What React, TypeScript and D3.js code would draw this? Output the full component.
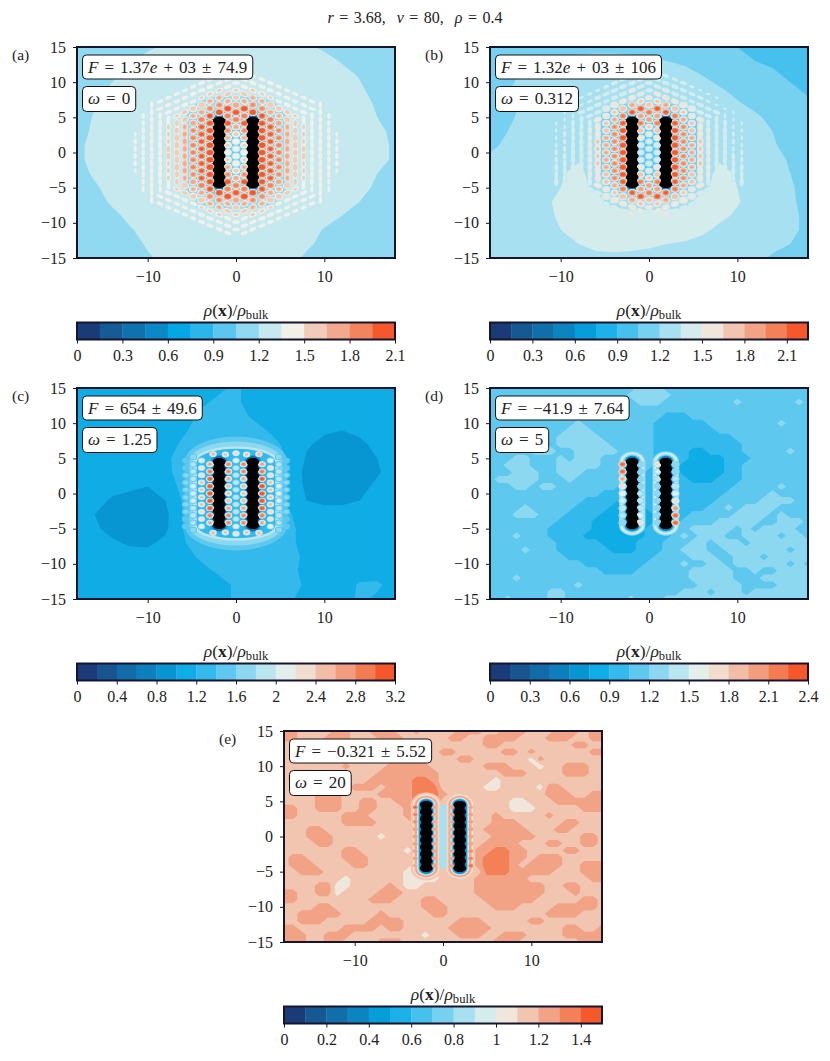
import { useEffect, useRef } from "react"
import * as d3 from "d3"

// ---- shared axes and colours ----
const xExtent = [-18, 18]
const yExtent = [-15, 15]
const xTicks = [-10, 0, 10]
const yTicks = [-15, -10, -5, 0, 5, 10, 15]
const rodX = [-1.9, 1.9]
const rodEnd = 4.5
const beadY = [-4.5, -3.5, -2.5, -1.5, -0.5, 0.5, 1.5, 2.5, 3.5, 4.5]
const latticePitch = 1.04
const barColours = ["#1b3a78", "#155b95", "#0f72ae", "#0b89c6", "#03a7e4", "#2ab6ea", "#5cc7ee", "#90d9f1", "#c5e9ef", "#f1f1e9", "#f1cdb9", "#f3a98d", "#f4845d", "#f6572b"]

// ---- panel (a) ----
const gridA = [
  [1.1, 1.11, 1.12, 1.14, 1.18, 1.22, 1.25, 1.26, 1.26, 1.26, 1.26, 1.26, 1.25, 1.22, 1.18, 1.14, 1.12, 1.11, 1.1],
  [1.11, 1.12, 1.14, 1.19, 1.24, 1.27, 1.28, 1.28, 1.28, 1.28, 1.28, 1.28, 1.28, 1.27, 1.24, 1.19, 1.15, 1.12, 1.11],
  [1.12, 1.14, 1.18, 1.24, 1.27, 1.28, 1.28, 1.28, 1.28, 1.28, 1.28, 1.28, 1.28, 1.28, 1.27, 1.24, 1.19, 1.13, 1.11],
  [1.13, 1.17, 1.22, 1.27, 1.28, 1.28, 1.28, 1.28, 1.28, 1.28, 1.28, 1.28, 1.28, 1.28, 1.28, 1.27, 1.22, 1.15, 1.12],
  [1.14, 1.19, 1.25, 1.27, 1.28, 1.28, 1.26, 1.18, 1.12, 1.12, 1.12, 1.18, 1.26, 1.28, 1.28, 1.27, 1.25, 1.18, 1.13],
  [1.15, 1.21, 1.26, 1.28, 1.28, 1.28, 1.22, 1.0, 0.95, 1.0, 0.95, 1.0, 1.22, 1.28, 1.28, 1.28, 1.26, 1.2, 1.15],
  [1.16, 1.22, 1.27, 1.28, 1.28, 1.28, 1.22, 0.98, 0.92, 1.0, 0.92, 0.98, 1.22, 1.28, 1.28, 1.28, 1.27, 1.23, 1.17],
  [1.17, 1.24, 1.27, 1.28, 1.28, 1.28, 1.22, 0.98, 0.92, 1.02, 0.92, 0.98, 1.22, 1.28, 1.28, 1.28, 1.27, 1.24, 1.18],
  [1.17, 1.24, 1.27, 1.28, 1.28, 1.28, 1.22, 0.98, 0.92, 1.02, 0.92, 0.98, 1.22, 1.28, 1.28, 1.28, 1.27, 1.24, 1.18],
  [1.15, 1.22, 1.27, 1.28, 1.28, 1.28, 1.22, 0.98, 0.92, 1.0, 0.92, 0.98, 1.22, 1.28, 1.28, 1.28, 1.27, 1.2, 1.15],
  [1.12, 1.18, 1.25, 1.28, 1.28, 1.28, 1.22, 1.0, 0.95, 1.0, 0.95, 1.0, 1.22, 1.28, 1.28, 1.28, 1.25, 1.17, 1.13],
  [1.1, 1.15, 1.22, 1.27, 1.28, 1.28, 1.26, 1.18, 1.12, 1.12, 1.12, 1.18, 1.26, 1.28, 1.28, 1.26, 1.2, 1.14, 1.11],
  [1.08, 1.12, 1.17, 1.23, 1.27, 1.28, 1.28, 1.28, 1.28, 1.28, 1.28, 1.28, 1.28, 1.28, 1.26, 1.2, 1.15, 1.11, 1.08],
  [1.08, 1.1, 1.13, 1.19, 1.24, 1.27, 1.28, 1.28, 1.28, 1.28, 1.28, 1.28, 1.28, 1.26, 1.19, 1.15, 1.12, 1.1, 1.08],
  [1.07, 1.09, 1.12, 1.17, 1.21, 1.25, 1.27, 1.28, 1.28, 1.28, 1.28, 1.28, 1.26, 1.22, 1.17, 1.12, 1.09, 1.08, 1.07],
  [1.06, 1.08, 1.1, 1.15, 1.19, 1.22, 1.25, 1.26, 1.26, 1.26, 1.26, 1.25, 1.24, 1.18, 1.13, 1.09, 1.08, 1.07, 1.06],
]
const colXA = [0, 0.94, 1.9, 2.95, 3.9, 4.85, 5.8, 6.7, 7.65, 8.6, 9.55, 10.5, 11.4]
const colStartA = [0.52, 0, 5.72, 0, 0.52, 0, 0.52, 0, 0.52, 0, 0.52, 0, 0.52]
const colPeaksA = [
  [1.45, 1.5, 1.6, 1.75, 1.95, 2.15, 1.8, 1.65, 1.55, 1.45, 1.42],
  [1.5, 1.55, 1.7, 1.85, 2.1, 1.95, 2.15, 1.7, 1.6, 1.5, 1.45, 1.42],
  [2.2, 1.85, 1.7, 1.55, 1.45, 1.42],
  [2.25, 2.25, 2.25, 2.2, 2.15, 2.1, 1.85, 1.7, 1.55, 1.45, 1.42],
  [2.05, 2.05, 2.05, 2.05, 1.95, 1.75, 1.65, 1.55, 1.45, 1.42],
  [1.9, 1.9, 1.9, 1.85, 1.8, 1.7, 1.6, 1.5, 1.42, 1.4],
  [1.72, 1.72, 1.72, 1.7, 1.65, 1.6, 1.5, 1.42, 1.4],
  [1.65, 1.65, 1.65, 1.62, 1.6, 1.55, 1.45, 1.42, 1.4],
  [1.6, 1.55, 1.55, 1.55, 1.5, 1.45, 1.42, 1.4],
  [1.45, 1.45, 1.45, 1.45, 1.45, 1.42, 1.42, 1.4],
  [1.42, 1.42, 1.42, 1.42, 1.42, 1.4, 1.4],
  [1.4, 1.4, 1.4, 1.4, 1.38, 1.38],
  [1.38, 1.38, 1.37],
]
const barTicksA = [0, 0.3, 0.6, 0.9, 1.2, 1.5, 1.8, 2.1]

// ---- panel (b) ----
const gridB = [
  [1.13, 1.13, 1.13, 1.14, 1.15, 1.15, 1.15, 1.15, 1.15, 1.13, 1.13, 1.12, 1.12, 1.1, 1.05, 1.03, 1.0, 0.98, 0.97],
  [1.17, 1.17, 1.18, 1.2, 1.22, 1.24, 1.26, 1.26, 1.24, 1.22, 1.2, 1.17, 1.13, 1.1, 1.07, 1.05, 1.03, 1.0, 1.0],
  [1.18, 1.19, 1.21, 1.23, 1.26, 1.28, 1.3, 1.31, 1.32, 1.32, 1.3, 1.26, 1.2, 1.15, 1.12, 1.1, 1.07, 1.03, 1.01],
  [1.15, 1.19, 1.23, 1.26, 1.27, 1.3, 1.32, 1.33, 1.33, 1.33, 1.33, 1.32, 1.28, 1.21, 1.17, 1.13, 1.1, 1.07, 1.03],
  [1.15, 1.17, 1.22, 1.26, 1.28, 1.31, 1.33, 1.25, 1.2, 1.2, 1.2, 1.25, 1.32, 1.29, 1.21, 1.17, 1.13, 1.1, 1.07],
  [1.15, 1.18, 1.23, 1.27, 1.3, 1.32, 1.28, 1.0, 0.95, 1.0, 0.95, 1.0, 1.28, 1.32, 1.28, 1.22, 1.17, 1.12, 1.1],
  [1.15, 1.2, 1.25, 1.28, 1.31, 1.32, 1.28, 0.98, 0.92, 1.0, 0.92, 0.98, 1.28, 1.33, 1.3, 1.25, 1.2, 1.15, 1.11],
  [1.17, 1.23, 1.26, 1.28, 1.31, 1.33, 1.28, 0.98, 0.92, 1.0, 0.92, 0.98, 1.28, 1.33, 1.3, 1.26, 1.21, 1.17, 1.13],
  [1.23, 1.26, 1.28, 1.3, 1.33, 1.34, 1.28, 0.98, 0.92, 1.0, 0.92, 0.98, 1.28, 1.34, 1.33, 1.28, 1.23, 1.19, 1.15],
  [1.25, 1.26, 1.28, 1.31, 1.34, 1.38, 1.3, 0.98, 0.92, 1.0, 0.92, 0.98, 1.3, 1.38, 1.34, 1.28, 1.25, 1.2, 1.17],
  [1.25, 1.27, 1.29, 1.32, 1.35, 1.38, 1.33, 1.05, 0.95, 1.0, 0.95, 1.05, 1.33, 1.38, 1.35, 1.29, 1.25, 1.21, 1.17],
  [1.26, 1.27, 1.29, 1.33, 1.37, 1.4, 1.4, 1.3, 1.25, 1.25, 1.25, 1.3, 1.4, 1.4, 1.36, 1.3, 1.25, 1.21, 1.18],
  [1.26, 1.27, 1.29, 1.31, 1.37, 1.4, 1.42, 1.42, 1.42, 1.42, 1.42, 1.42, 1.42, 1.38, 1.33, 1.28, 1.25, 1.21, 1.19],
  [1.26, 1.26, 1.28, 1.3, 1.35, 1.38, 1.4, 1.42, 1.42, 1.42, 1.42, 1.4, 1.38, 1.32, 1.28, 1.26, 1.23, 1.21, 1.19],
  [1.26, 1.26, 1.27, 1.28, 1.33, 1.35, 1.37, 1.38, 1.38, 1.37, 1.35, 1.34, 1.3, 1.28, 1.26, 1.25, 1.22, 1.2, 1.18],
  [1.25, 1.26, 1.26, 1.27, 1.29, 1.31, 1.33, 1.33, 1.32, 1.31, 1.3, 1.29, 1.29, 1.27, 1.25, 1.22, 1.19, 1.17, 1.15],
]
const colXB = [0, 0.94, 1.9, 2.95, 3.9, 4.85, 5.8, 6.7, 7.65, 8.6, 9.55, 10.5]
const colStartB = [0.52, 0, 5.72, 0, 0.52, 0, 0.52, 0, 0.52, 0, 0.52, 0]
const colPeaksB = [
  [1.45, 1.45, 1.55, 1.7, 1.95, 2.1, 1.75, 1.6, 1.5, 1.42, 1.4],
  [1.45, 1.5, 1.65, 1.8, 2.05, 1.95, 2.2, 1.7, 1.55, 1.45, 1.4, 1.38],
  [2.2, 1.85, 1.65, 1.55, 1.42, 1.38],
  [2.35, 2.35, 2.35, 2.3, 2.2, 2.1, 1.8, 1.65, 1.5, 1.42, 1.38],
  [2.0, 2.0, 2.0, 2.0, 1.85, 1.7, 1.6, 1.5, 1.42, 1.38],
  [1.85, 1.85, 1.85, 1.8, 1.75, 1.65, 1.55, 1.42, 1.38, 1.36],
  [1.7, 1.7, 1.65, 1.65, 1.6, 1.5, 1.42, 1.38, 1.36],
  [1.55, 1.55, 1.55, 1.55, 1.5, 1.45, 1.38, 1.36, 1.36],
  [1.5, 1.5, 1.45, 1.45, 1.42, 1.4, 1.36, 1.36],
  [1.4, 1.4, 1.4, 1.4, 1.38, 1.36, 1.36],
  [1.37, 1.37, 1.37, 1.36, 1.36, 1.36],
  [1.36, 1.36, 1.36, 1.36, 1.36],
]
const barTicksB = [0, 0.3, 0.6, 0.9, 1.2, 1.5, 1.8, 2.1]

// ---- panel (c) ----
const gridC = [
  [1.1, 1.1, 1.1, 1.1, 1.1, 1.1, 1.12, 1.15, 1.18, 1.22, 1.15, 1.12, 1.1, 1.1, 1.1, 1.1, 1.1, 1.1, 1.1],
  [1.1, 1.1, 1.1, 1.1, 1.1, 1.1, 1.12, 1.18, 1.22, 1.22, 1.15, 1.1, 1.1, 1.1, 1.1, 1.1, 1.1, 1.1, 1.1],
  [1.1, 1.1, 1.1, 1.1, 1.1, 1.1, 1.15, 1.22, 1.25, 1.25, 1.18, 1.12, 1.1, 1.08, 1.08, 1.06, 1.08, 1.1, 1.1],
  [1.1, 1.1, 1.1, 1.1, 1.1, 1.12, 1.18, 1.25, 1.3, 1.3, 1.25, 1.18, 1.12, 1.05, 1.02, 1.0, 1.04, 1.08, 1.1],
  [1.1, 1.1, 1.1, 1.08, 1.1, 1.15, 1.22, 1.32, 1.4, 1.4, 1.35, 1.25, 1.15, 1.02, 0.96, 0.94, 0.96, 1.05, 1.1],
  [1.1, 1.1, 1.1, 1.1, 1.1, 1.16, 1.28, 1.35, 1.35, 1.35, 1.35, 1.3, 1.18, 0.98, 0.92, 0.9, 0.92, 1.0, 1.1],
  [1.1, 1.1, 1.1, 1.08, 1.08, 1.15, 1.28, 1.35, 1.35, 1.35, 1.35, 1.3, 1.15, 0.94, 0.92, 0.92, 0.9, 0.98, 1.08],
  [1.1, 1.08, 1.05, 1.02, 1.0, 1.1, 1.25, 1.35, 1.35, 1.35, 1.35, 1.3, 1.15, 0.96, 0.92, 0.92, 0.94, 1.04, 1.1],
  [1.1, 1.05, 0.98, 0.96, 0.94, 1.0, 1.22, 1.35, 1.35, 1.35, 1.35, 1.3, 1.16, 1.0, 0.96, 0.96, 1.0, 1.08, 1.1],
  [1.08, 1.0, 0.94, 0.92, 0.92, 0.95, 1.2, 1.32, 1.35, 1.35, 1.35, 1.32, 1.22, 1.1, 1.08, 1.08, 1.08, 1.1, 1.1],
  [1.08, 1.02, 0.96, 0.92, 0.92, 0.96, 1.2, 1.35, 1.35, 1.35, 1.35, 1.35, 1.25, 1.12, 1.1, 1.1, 1.1, 1.1, 1.1],
  [1.1, 1.08, 1.02, 0.98, 0.96, 1.05, 1.18, 1.3, 1.35, 1.35, 1.35, 1.32, 1.25, 1.12, 1.1, 1.1, 1.1, 1.1, 1.1],
  [1.1, 1.1, 1.1, 1.06, 1.08, 1.12, 1.15, 1.22, 1.3, 1.32, 1.35, 1.35, 1.28, 1.15, 1.1, 1.1, 1.1, 1.1, 1.1],
  [1.1, 1.1, 1.08, 1.1, 1.1, 1.1, 1.12, 1.16, 1.22, 1.28, 1.32, 1.32, 1.25, 1.15, 1.1, 1.1, 1.12, 1.15, 1.1],
  [1.1, 1.1, 1.1, 1.1, 1.1, 1.1, 1.1, 1.12, 1.15, 1.22, 1.25, 1.28, 1.25, 1.18, 1.15, 1.12, 1.22, 1.22, 1.15],
  [1.1, 1.1, 1.1, 1.1, 1.1, 1.1, 1.1, 1.12, 1.15, 1.22, 1.25, 1.25, 1.22, 1.15, 1.12, 1.15, 1.22, 1.18, 1.12],
]
const colXC = [0, 0.85, 1.2, 2.6, 2.95, 3.9, 4.85, 5.7]
const colStartC = [0.52, 0, 5.55, 5.6, 0, 0.52, 0, 0.52]
const colPeaksC = [
  [2.0, 2.0, 2.0, 2.0, 2.2, 2.4],
  [2.5, 2.6, 2.7, 2.9, 2.9],
  [2.5],
  [2.6],
  [3.3, 3.3, 3.2, 3.0, 2.7],
  [2.5, 2.5, 2.4, 2.3, 2.2],
  [2.1, 2.1, 2.0, 2.0, 1.9, 1.8],
  [1.7, 1.7, 1.7, 1.6, 1.6],
]
const pairDxC = [3.9, 3.4, 2.95, 2.55]
const pairDyC = [3.6, 2.9, 2.2, 1.85]
const pairValueC = [1.5, 1.7, 1.9, 1.3]
const rodDistC = [1.0, 0.85, 0.75]
const rodValueC = [1.1, 0.7, 0.4]
const barTicksC = [0, 0.4, 0.8, 1.2, 1.6, 2, 2.4, 2.8, 3.2]

// ---- panel (d): colour band index at 1 unit spacing, top row is y = 15 ----
const bandRowsD = [
  "7777777777777777788877777777777777777",
  "7777777777777777888887777777777777777",
  "7777777777777777788877777777877777787",
  "7777777777778777777777777777777777777",
  "7777777777777777777766677777777777777",
  "7777777777877777777666666777777778777",
  "7777777778887777777666666677777777777",
  "7777777788888777777666666666777777777",
  "7777778788888877777666666666677777777",
  "7777788877888887777666655666677777877",
  "7778877787888777777666655556667777777",
  "7788877788888777777666555556677777777",
  "7778887788877777776666555556677777777",
  "7888887778777777776666655566677777777",
  "7778878877777776666666666666777778777",
  "7777777777777666666666666667777787777",
  "7777777777766665566666666677777888877",
  "7777877777666655556666666778788887777",
  "7778887776666555555666677777888878777",
  "7777777766665555555666777788888778887",
  "7777777666665555556667788888787888877",
  "7778777666655555556667878887788887887",
  "7777777766666555566677788788878888888",
  "7777877766666655566677888778888888788",
  "7777777776666666666777788877888788888",
  "7777777777766666667777877887888888787",
  "7777777777777666677777788888778778888",
  "7778777777777777777777788888777888888",
  "7777777777877777777777778888877778888",
  "7777777887777777777777888788878888888",
  "7787777887777777877788888888888888888",
]
const bandStepD = 0.15
const gridD = bandRowsD.map((row) =>
  Array.from(row.padEnd(37, "7").slice(0, 37), (c) => (+c + 0.5) * bandStepD),
)
const colXD = [-3, -1, 1, 3]
const colStartD = [4.16, 4.16, 4.16, 4.16]
const colPeaksD = [
  [2.3, 2.3, 2.0, 1.8, 1.65, 1.55, 1.45, 1.4, 1.35],
  [1.3, 1.35, 1.35, 1.35, 1.4, 1.45, 1.5, 1.6, 1.8],
  [1.8, 1.55, 1.45, 1.35, 1.35, 1.3, 1.3, 1.3, 1.3],
  [1.35, 1.35, 1.4, 1.5, 1.6, 1.8, 2.1, 2.3, 2.3],
]
const rodDistD = [1.5, 1.38, 1.25, 1.1, 0.95, 0.85, 0.72]
const rodValueD = [1.25, 1.4, 1.55, 1.3, 1.05, 0.7, 0.35]
const barTicksD = [0, 0.3, 0.6, 0.9, 1.2, 1.5, 1.8, 2.1, 2.4]

// ---- panel (e): patches at 1 unit spacing, 0 speck, 1 base, 2 patch, 3 strong patch ----
const patchValues = [1.05, 1.15, 1.25, 1.35]
const patchRowsE = [
  "2211112211222112111122211222111222122",
  "2211122211122211111221122221112221122",
  "1112221111111211111111122111111112211",
  "1111222111221111112211111221211111122",
  "1111122111111222111122111111021111111",
  "1111111211112222211111122211101122211",
  "1222111111122222221111111222111122211",
  "1221111111222223321111110111111111111",
  "1111111122212223331111100111102211111",
  "1111222111122223332111111111112221122",
  "1111222112211223331111111100111222222",
  "2211222112211123331111111100011111222",
  "2211111222111122321111112111112111111",
  "1111111222211112221111112221111122111",
  "1112211111111111211111122222111221111",
  "1112221111101111211111112222211111221",
  "1111221111111111121111122221112211221",
  "1111111221111101111111223322111122111",
  "1221111222111111111111233322122211111",
  "1222111122111110011111233321222211222",
  "1122211111111100001111133322222111222",
  "1111111011111100001111222222111111122",
  "1111220011112100111111222222221122111",
  "2211220111122211111111222222221112111",
  "2211111111222111221111122222211111221",
  "1111221111111111222111112221111222221",
  "1122222111121111122111111111112222111",
  "1122211111222211111122211111221111111",
  "2211111222212211111222221111111122112",
  "2221122211111111011122211222111122222",
  "2221122111122211111111112221111111222",
]
const gridE = patchRowsE.map((row) => Array.from(row, (c) => patchValues[+c]))
const colXE = [-3.15, -0.95, 0.95, 3.15]
const colStartE = [4.16, 4.16, 4.16, 4.16]
const colPeaksE = [
  [1.42, 1.35, 1.32, 1.3, 1.28, 1.28, 1.25, 1.25, 1.22],
  [1.25, 1.22, 1.22, 1.22, 1.22, 1.22, 1.25, 1.25, 1.28],
  [1.28, 1.25, 1.22, 1.22, 1.22, 1.22, 1.22, 1.22, 1.25],
  [1.22, 1.25, 1.25, 1.28, 1.28, 1.3, 1.32, 1.35, 1.42],
]
const rodDistE = [1.75, 1.5, 1.38, 1.25, 1.05, 0.95, 0.85, 0.75]
const rodValueE = [1.15, 1.05, 1.15, 1.25, 1.05, 0.85, 0.55, 0.3]
const barTicksE = [0, 0.2, 0.4, 0.6, 0.8, 1, 1.2, 1.4]

// math text is a list of [string, kind]: i italic, b bold, s subscript, anything else roman
type Part = [string, string?]
const rhoLabel: Part[] = [["ρ", "i"], ["("], ["x", "b"], [")/"], ["ρ", "i"], ["bulk", "s"]]

function addMath(parent: any, x: number, y: number, parts: Part[], size: number, anchor = "start", gap = 1.8) {
  const text = parent
    .append("text")
    .attr("x", x)
    .attr("y", y)
    .attr("font-size", size)
    .attr("text-anchor", anchor)
    .attr("word-spacing", gap)
    .attr("xml:space", "preserve")
    .attr("fill", "#222")
  parts.forEach(([s, kind], i) => {
    const span = text.append("tspan").text(s)
    if (kind === "i") span.attr("font-style", "italic")
    if (kind === "b") span.attr("font-weight", "bold")
    if (kind === "s") span.attr("font-size", size * 0.72).attr("dy", 3)
    if (i > 0 && parts[i - 1][1] === "s") span.attr("dy", -3)
  })
  return text
}

const colourOf = d3
  .scaleLinear<string>()
  .domain(barColours.map((_, i) => (i + 0.5) / barColours.length))
  .range(barColours)
  .clamp(true)

function drawPanel(svg: any, p: any) {
  const W = 318
  const H = 211
  const x = d3.scaleLinear().domain(xExtent).range([p.left, p.left + W])
  const y = d3.scaleLinear().domain(yExtent).range([p.top + H, p.top])
  const sx = (d: number) => x(d) - x(0)
  const sy = (d: number) => y(0) - y(d)

  const levels = d3.range(p.bands + 1).map((i) => i * p.step)
  const fillOf = (i: number) => colourOf((i + 0.5) / p.bands)
  const fillOfValue = (v: number) => fillOf(Math.max(0, Math.min(p.bands - 1, Math.floor(v / p.step + 1e-6))))

  const clipId = "clip" + p.tag.replace(/\W/g, "")
  svg.append("clipPath").attr("id", clipId).append("rect").attr("x", p.left).attr("y", p.top).attr("width", W).attr("height", H)
  const field = svg.append("g").attr("clip-path", `url(#${clipId})`)

  // background density as filled contours of the grid
  const rows = p.grid.length
  const cols = p.grid[0].length
  const gx = d3.scaleLinear().domain([0.5, cols - 0.5]).range([x(xExtent[0]), x(xExtent[1])])
  const gy = d3.scaleLinear().domain([0.5, rows - 0.5]).range([y(yExtent[1]), y(yExtent[0])])
  const project = d3.geoTransform({
    point(px: number, py: number) {
      this.stream.point(gx(px), gy(py))
    },
  })
  const contours = d3.contours().size([cols, rows]).thresholds(levels.slice(0, -1))(p.grid.flat())
  field
    .selectAll("path.band")
    .data(contours)
    .join("path")
    .attr("class", "band")
    .attr("d", d3.geoPath(project))
    .attr("fill", (_: any, i: number) => fillOf(i))

  // rings around the pair of rods, then around each rod
  const shell = (cx: number, dx: number, dy: number, fill: string) =>
    field
      .append("rect")
      .attr("x", x(cx - dx))
      .attr("y", y(rodEnd + dy))
      .attr("width", 2 * sx(dx))
      .attr("height", y(-rodEnd - dy) - y(rodEnd + dy))
      .attr("rx", sx(dx))
      .attr("ry", sy(dy))
      .attr("fill", fill)
  ;(p.pairValue || []).forEach((v: number, i: number) => shell(0, rodX[1] + p.pairDx[i], p.pairDy[i], fillOfValue(v)))
  p.rodValue.forEach((v: number, i: number) => rodX.forEach((cx) => shell(cx, p.rodDist[i], p.rodDist[i], fillOfValue(v))))
  if (p.midValue !== undefined) shell(0, 0.42, 0, fillOfValue(p.midValue))

  // density peaks: every contour band of all peaks goes down before the next band
  const spots: any[] = []
  p.colX.forEach((cx: number, c: number) => {
    p.colPeaks[c].forEach((peak: number, i: number) => {
      const cy = p.mirror ? p.colStart[c] + i * latticePitch : p.colStart[c] - i * latticePitch
      const xs = p.mirror && cx !== 0 ? [cx, -cx] : [cx]
      const ys = p.mirror && cy !== 0 ? [cy, -cy] : [cy]
      xs.forEach((a: number) => ys.forEach((b: number) => spots.push({ x: a, y: b, peak })))
    })
  })
  const floorAt = (px: number, py: number) => {
    if (p.floor !== undefined) return p.floor
    const c = Math.max(0, Math.min(cols - 1, Math.round(((px + 18) / 36) * (cols - 1))))
    const r = Math.max(0, Math.min(rows - 1, Math.round(((15 - py) / 30) * (rows - 1))))
    return p.grid[r][c]
  }
  levels.slice(0, -1).forEach((lvl, band) => {
    const marks = spots.filter((s) => s.peak > lvl && lvl >= floorAt(s.x, s.y) - p.step)
    field
      .append("g")
      .attr("fill", fillOf(band))
      .selectAll("ellipse")
      .data(marks)
      .join("ellipse")
      .attr("cx", (s: any) => x(s.x))
      .attr("cy", (s: any) => y(s.y))
      .each(function (this: any, s: any) {
        const base = floorAt(s.x, s.y)
        const u = Math.max(0, (lvl - base) / (s.peak - base))
        const r = p.spotR * Math.sqrt(Math.max(0, 1 - u * u))
        // weak peaks far out merge into the bands along the sides of the hexagon
        const far = p.hexBands && (Math.abs(s.x) > 5 || Math.abs(s.y) > 7)
        const e = far ? Math.max(0, Math.min(1, (1.75 - s.peak) / 0.25)) : 0
        const sel = d3.select(this).attr("rx", sx(r) * (1 - 0.08 * e)).attr("ry", sy(r) * (1 - 0.42 * e))
        if (e > 0) {
          const upright = Math.abs(s.y) < 0.72 * Math.abs(s.x)
          const angle = upright ? 90 : s.x === 0 ? 0 : Math.sign(s.x * s.y) * 21.8
          sel.attr("transform", `rotate(${angle},${x(s.x)},${y(s.y)})`)
        }
      })
  })

  // the two rods and their beads
  rodX.forEach((cx) => {
    shell(cx, 0.55, 0.55, "#000")
    field
      .append("g")
      .selectAll("ellipse")
      .data(beadY)
      .join("ellipse")
      .attr("cx", x(cx))
      .attr("cy", (d: number) => y(d))
      .attr("rx", sx(0.72))
      .attr("ry", sy(0.55))
      .attr("fill", "#000")
  })

  // frame and axes
  svg
    .append("rect")
    .attr("x", p.left)
    .attr("y", p.top)
    .attr("width", W)
    .attr("height", H)
    .attr("fill", "none")
    .attr("stroke", "#15152e")
    .attr("stroke-width", 2)
  const styleAxis = (g: any) => {
    g.select(".domain").remove()
    g.selectAll("line").attr("stroke", "#15152e").attr("stroke-width", 1)
    g.selectAll("text").attr("font-size", 16).attr("font-family", "'Liberation Serif', serif").attr("fill", "#222")
  }
  svg
    .append("g")
    .attr("transform", `translate(0,${p.top + H})`)
    .call(d3.axisBottom(x).tickValues(xTicks).tickSize(4).tickPadding(8.6))
    .call(styleAxis)
  svg
    .append("g")
    .attr("transform", `translate(${p.left},0)`)
    .call(d3.axisLeft(y).tickValues(yTicks).tickSize(4).tickPadding(7))
    .call(styleAxis)

  // annotation boxes
  const box = (top: number, h: number, parts: Part[]) => {
    const left = p.left + 5.5
    const rect = svg.append("rect").attr("fill", "#fff").attr("stroke", "#111").attr("stroke-width", 1).attr("rx", 4)
    const t = addMath(svg, left + 5.5, top + 17.5, parts, 17)
    const w = t.node().getComputedTextLength()
    rect.attr("x", left).attr("y", top).attr("width", w + 11).attr("height", h)
  }
  box(p.top + 8, 24, p.fLabel)
  box(p.top + 39.5, 25, p.wLabel)
  addMath(svg, p.left - 65, p.top + 13, [[p.tag]], 15.5)

  // colour bar
  const barTop = p.top + H + 64.5
  const barH = 17
  const bar = d3.scaleLinear().domain([0, levels[p.bands]]).range([p.left, p.left + W])
  svg
    .append("g")
    .selectAll("rect")
    .data(d3.range(p.bands))
    .join("rect")
    .attr("x", (i: number) => bar(levels[i]))
    .attr("y", barTop)
    .attr("width", (i: number) => bar(levels[i + 1]) - bar(levels[i]) + 0.3)
    .attr("height", barH)
    .attr("fill", (i: number) => fillOf(i))
  svg
    .append("rect")
    .attr("x", p.left)
    .attr("y", barTop)
    .attr("width", W)
    .attr("height", barH)
    .attr("fill", "none")
    .attr("stroke", "#15152e")
    .attr("stroke-width", 2)
  svg
    .append("g")
    .attr("transform", `translate(0,${barTop + barH})`)
    .call(
      d3
        .axisBottom(bar)
        .tickValues(p.barTicks)
        .tickSize(4)
        .tickPadding(6.5)
        .tickFormat((d: any) => String(d)),
    )
    .call(styleAxis)
  addMath(svg, p.left + W / 2, p.top + H + 58, rhoLabel, 17.5, "middle", 0)
}

const panels = [
  {
    tag: "(a)", left: 77, top: 47, bands: 14, step: 0.15, spotR: 0.52, mirror: true, hexBands: true,
    grid: gridA, colX: colXA, colStart: colStartA, colPeaks: colPeaksA, rodDist: [0.85, 0.75], rodValue: [0.7, 0.35], barTicks: barTicksA,
    fLabel: [["F", "i"], [" = 1.37"], ["e", "i"], [" + 03 ± 74.9"]] as Part[],
    wLabel: [["ω", "i"], [" = 0"]] as Part[],
  },
  {
    tag: "(b)", left: 490, top: 47, bands: 15, step: 0.15, spotR: 0.52, mirror: true, hexBands: true,
    grid: gridB, colX: colXB, colStart: colStartB, colPeaks: colPeaksB, rodDist: [0.85, 0.75], rodValue: [0.7, 0.35], barTicks: barTicksB,
    fLabel: [["F", "i"], [" = 1.32"], ["e", "i"], [" + 03 ± 106"]] as Part[],
    wLabel: [["ω", "i"], [" = 0.312"]] as Part[],
  },
  {
    tag: "(c)", left: 77, top: 388, bands: 16, step: 0.2, spotR: 0.43, mirror: true, floor: 1.3,
    grid: gridC, colX: colXC, colStart: colStartC, colPeaks: colPeaksC, pairDx: pairDxC, pairDy: pairDyC, pairValue: pairValueC,
    rodDist: rodDistC, rodValue: rodValueC, barTicks: barTicksC,
    fLabel: [["F", "i"], [" = 654 ± 49.6"]] as Part[],
    wLabel: [["ω", "i"], [" = 1.25"]] as Part[],
  },
  {
    tag: "(d)", left: 490, top: 388, bands: 16, step: 0.15, spotR: 0.45, mirror: false, floor: 1.2,
    grid: gridD, colX: colXD, colStart: colStartD, colPeaks: colPeaksD, rodDist: rodDistD, rodValue: rodValueD, barTicks: barTicksD,
    fLabel: [["F", "i"], [" = −41.9 ± 7.64"]] as Part[],
    wLabel: [["ω", "i"], [" = 5"]] as Part[],
  },
  {
    tag: "(e)", left: 284, top: 731, bands: 15, step: 0.1, spotR: 0.3, mirror: false, floor: 1.15, midValue: 0.85,
    grid: gridE, colX: colXE, colStart: colStartE, colPeaks: colPeaksE, rodDist: rodDistE, rodValue: rodValueE, barTicks: barTicksE,
    fLabel: [["F", "i"], [" = −0.321 ± 5.52"]] as Part[],
    wLabel: [["ω", "i"], [" = 20"]] as Part[],
  },
]

export default function App() {
  const svgRef = useRef<SVGSVGElement | null>(null)

  useEffect(() => {
    if (!svgRef.current) return
    const svg = d3.select(svgRef.current)
    svg.selectAll("*").remove()

    panels.forEach((p) => drawPanel(svg, p))

    addMath(
      svg,
      415,
      23,
      [["r", "i"], [" = 3.68,  "], ["v", "i"], [" = 80,  "], ["ρ", "i"], [" = 0.4"]],
      16,
      "middle",
      1.5,
    )
  }, [])

  return (
    <svg
      ref={svgRef}
      width={830}
      height={1061}
      fontFamily="'Liberation Serif', serif"
      style={{ position: "absolute", left: 0, top: 0, background: "#fff" }}
    />
  )
}
